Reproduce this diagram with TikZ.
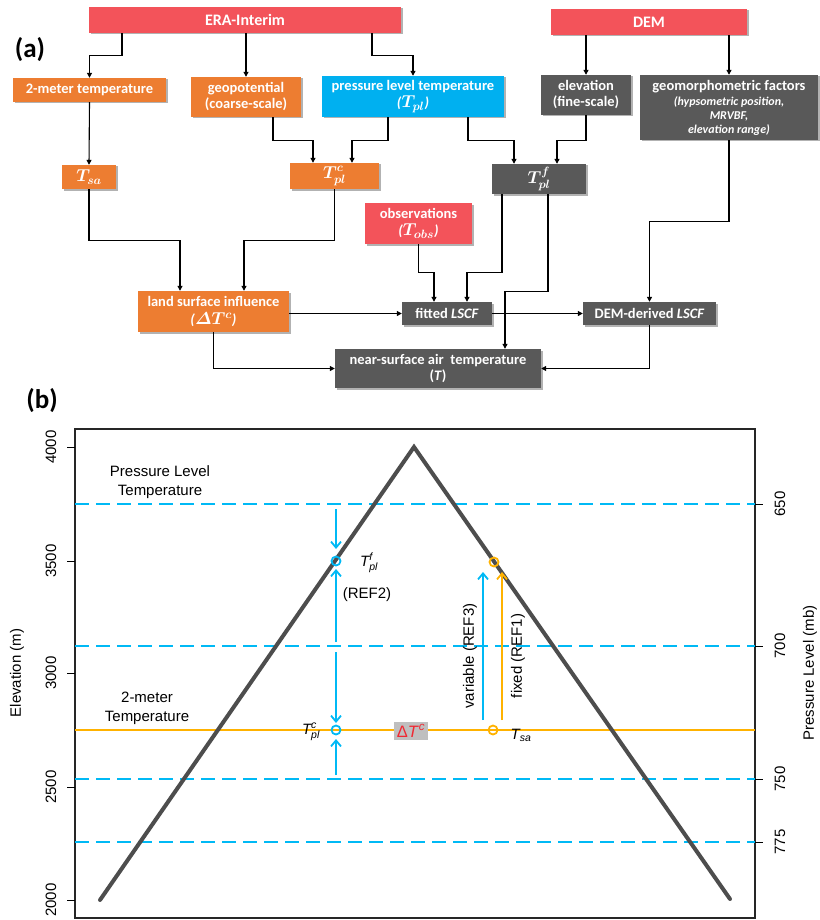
\documentclass[tikz,border=0pt]{standalone}
\usepackage{amsmath}
\usepackage{fontspec}
\setmainfont{Liberation Sans}
\newfontfamily\boxfont{Carlito}
\usetikzlibrary{arrows.meta,shadows}
\definecolor{eraRed}{RGB}{243,83,90}
\definecolor{boxOrange}{RGB}{237,125,49}
\definecolor{boxBlue}{RGB}{0,176,240}
\definecolor{boxGray}{RGB}{89,89,89}
\definecolor{lineBlue}{RGB}{0,185,245}
\definecolor{lineOrange}{RGB}{255,178,0}
\definecolor{mtnGray}{RGB}{77,77,77}
\definecolor{deltaRed}{RGB}{240,40,50}
\newcommand{\boxmath}[1]{{\fontsize{17.5}{16}\selectfont$#1$}}
\newcommand{\subline}[1]{{\fontsize{12}{13.5}\selectfont\itshape #1}}
\tikzset{
  box/.style={fill=#1, text=white, inner sep=0pt, align=center,
    font=\boxfont\bfseries\boldmath\fontsize{14.5}{16}\selectfont,
    drop shadow={shadow xshift=1.5pt, shadow yshift=-1.5pt, opacity=0.3, fill=black}},
  flow/.style={-{Triangle[length=5pt,width=5pt]}, line width=1.1pt},
  vec/.style={-{Straight Barb[length=6pt,width=10pt]}, line width=1.8pt},
  level/.style={lineBlue, line width=2pt, dash pattern=on 14pt off 7pt},
  plottext/.style={font=\fontsize{15}{19}\selectfont, align=center},
  panel/.style={font=\boxfont\bfseries\fontsize{27}{30}\selectfont}
}

\begin{document}
\begin{tikzpicture}[x=1pt,y=-1pt]
    \useasboundingbox (0,0) rectangle (819,920);
    %Panel (a)
    \node[panel] (lbla) at (30,50) {(a)};
    %Sources
    \node[box=eraRed, minimum width=312pt, minimum height=26pt, font=\boxfont\bfseries\fontsize{16}{18}\selectfont] (era) at (245,20) {ERA-Interim};
    \node[box=eraRed, minimum width=196pt, minimum height=26pt, font=\boxfont\bfseries\fontsize{16}{18}\selectfont] (dem) at (649,22) {DEM};
    %ERA-Interim fields
    \node[box=boxOrange, minimum width=153pt, minimum height=24pt] (t2m) at (89.5,90) {2-meter temperature};
    \node[box=boxOrange, minimum width=110pt, minimum height=40pt] (geo) at (246,97) {geopotential\\(coarse-scale)};
    \node[box=boxBlue, minimum width=182pt, minimum height=41pt] (plt) at (413,96.5) {pressure level temperature\\[1pt]\textit{(}\boxmath{T_{pl}}\textit{)}};
    %DEM fields
    \node[box=boxGray, minimum width=90pt, minimum height=40pt] (elev) at (586,95) {elevation\\(fine-scale)};
    \node[box=boxGray, minimum width=178pt, minimum height=65pt] (geom) at (729,107.5) {geomorphometric factors\\[-1pt]
      \subline{(hypsometric position,}\\[-2pt]\subline{MRVBF,}\\[-2pt]\subline{elevation range)}};
    %Derived temperatures
    \node[box=boxOrange, minimum width=54pt, minimum height=24pt] (tsa) at (89,177) {\boxmath{T_{sa}}};
    \node[box=boxOrange, minimum width=89pt, minimum height=26pt] (tplc) at (334.5,176) {\boxmath{T_{pl}^{c}}};
    \node[box=boxGray, minimum width=94pt, minimum height=30pt] (tplf) at (539,179) {\boxmath{T_{pl}^{f}}};
    \node[box=eraRed, minimum width=107pt, minimum height=41pt] (obs) at (418.5,223.5) {observations\\[1pt]\textit{(}\boxmath{T_{obs}}\textit{)}};
    \node[box=boxOrange, minimum width=151pt, minimum height=41pt] (lsi) at (213.5,311.5) {land surface influence\\[2pt]\textit{(}\boxmath{\varDelta T^{c}}\textit{)}};
    \node[box=boxGray, minimum width=90pt, minimum height=23pt] (fit) at (447,313.5) {fitted \textit{LSCF}};
    \node[box=boxGray, minimum width=133pt, minimum height=23pt] (demd) at (649.5,313.5) {DEM-derived \textit{LSCF}};
    \node[box=boxGray, minimum width=206pt, minimum height=39pt] (nsat) at (438,368.5) {near-surface air\ \ temperature\\(\textit{T})};
    %Connectors
    \draw[flow] ([xshift=-123pt]era.south) -- ++(0,22) -| (t2m.north);
    \draw[flow] (era.south -| geo.north) -- (geo.north);
    \draw[flow] ([xshift=127pt]era.south) -- ++(0,22) -| (plt.north);
    \draw[flow] (dem.south -| elev.north) -- (elev.north);
    \draw[flow] (dem.south -| geom.north) -- (geom.north);
    \draw[flow] (t2m.south) -- (tsa.north);
    \draw[flow] ([xshift=27pt]geo.south) -- ++(0,23) -| ([xshift=-21.5pt]tplc.north);
    \draw[flow] ([xshift=-25pt]plt.south) -- ++(0,23) -| ([xshift=17.5pt]tplc.north);
    \draw[flow] ([xshift=55pt]plt.south) -- ++(0,23) -| ([xshift=-25pt]tplf.north);
    \draw[flow] (elev.south) -- ++(0,25) -| ([xshift=18pt]tplf.north);
    \draw[flow] (tsa.south) -- ++(0,51) -| ([xshift=-33.5pt]lsi.north);
    \draw[flow] (tplc.south) -- ++(0,51) -| ([xshift=30.5pt]lsi.north);
    \draw[flow] (obs.south) -- ++(0,28) -| ([xshift=-13pt]fit.north);
    \draw[flow] ([xshift=-37pt]tplf.south) -- ++(0,78) -| ([xshift=20pt]fit.north);
    \draw[flow] ([xshift=9pt]tplf.south) -- ++(0,97) -| ([xshift=67pt]nsat.north);
    \draw[flow] (geom.south) -- ++(0,81) -| (demd.north);
    \draw[flow] (lsi.east |- fit.west) -- (fit.west);
    \draw[flow] (fit.east) -- (demd.west);
    \draw[flow] (lsi.south) |- (nsat.west);
    \draw[flow] (demd.south) |- (nsat.east);

    %Panel (b)
    \node[panel] (lblb) at (42,401) {(b)};
    %Axes
    \draw[line width=1.1pt, black!85] (75,429) rectangle (755,918);
    \foreach \yv/\lab in {447/4000, 561/3500, 673/3000, 787/2500, 900/2000}
      \draw[line width=1pt] (67,\yv) -- (75,\yv) node[plottext, rotate=90] at (51,\yv) {\lab};
    \foreach \yv/\lab in {504/650, 646/700, 779/750, 842/775}
      \draw[line width=1pt] (755,\yv) -- (763,\yv) node[plottext, rotate=90] at (780,\yv) {\lab};
    \node[plottext, rotate=90] (elevlab) at (17,673) {Elevation (m)};
    \node[plottext, rotate=90] (preslab) at (810,673) {Pressure Level (mb)};
    %Levels
    \foreach \yv in {504, 646, 779, 842}
      \draw[level] (75,\yv) -- (755,\yv);
    \draw[lineOrange, line width=2pt] (75,730) -- (755,730);
    \node[plottext] (plabel) at (160,482.5) {Pressure Level\\Temperature};
    \node[plottext] (slabel) at (147,708) {2-meter\\Temperature};
    %Mountain
    \draw[mtnGray, line width=4pt, line cap=round] (100,900) -- (414,447) -- (730,899);
    %Points
    \coordinate (pf) at (336,561);
    \coordinate (pc) at (336,730);
    \coordinate (sa) at (493,730);
    \coordinate (sf) at (494,562);
    \draw[lineBlue, line width=1.8pt] (pf) circle (4.5pt);
    \draw[lineBlue, line width=1.8pt] (pc) circle (4.5pt);
    \draw[lineOrange, line width=1.8pt] (sa) circle (4.5pt);
    \draw[lineOrange, line width=1.8pt] (sf) circle (4.5pt);
    \draw[vec, lineBlue] (336,509) -- ([yshift=12pt]pf);
    \draw[vec, lineBlue] (336,642) -- ([yshift=-8pt]pf);
    \draw[vec, lineBlue] (336,652) -- ([yshift=7pt]pc);
    \draw[vec, lineBlue] (336,775) -- ([yshift=-9pt]pc);
    \draw[vec, lineBlue] (483,720) -- (483,572);
    \draw[vec, lineOrange] (502,720) -- (502,572);
    %Labels
    \node[plottext] (tfl) at (369,563) {$\textit{T}^{\textit{f}}_{\textit{pl}}$};
    \node[plottext] (ref2) at (367,595) {(REF2)};
    \node[plottext] (tcl) at (311,732) {$\textit{T}^{\textit{c}}_{\textit{pl}}$};
    \node[plottext] (tsal) at (521,735) {$\textit{T}_{\textit{sa}}$};
    \node[plottext, fill=black!25, text=deltaRed, inner sep=2.5pt, font=\fontsize{16.5}{19}\selectfont] (dtc) at (411,731) {Δ\textit{T}$^{\textit{c}}$};
    \node[plottext, rotate=90] (ref3) at (470,656) {variable (REF3)};
    \node[plottext, rotate=90] (ref1) at (518,656) {fixed (REF1)};
\end{tikzpicture}
\end{document}
